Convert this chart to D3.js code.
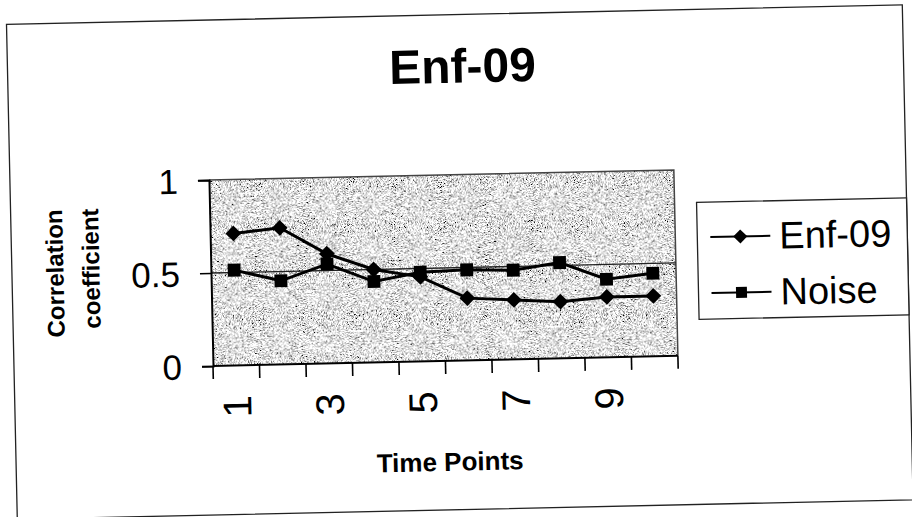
<!DOCTYPE html>
<html>
<head>
<meta charset="utf-8">
<script src="https://cdn.jsdelivr.net/npm/d3@7"></script>
<style>
  html, body { margin: 0; padding: 0; background: #fff; }
  svg { display: block; }
  text { font-family: "Liberation Sans", Arial, sans-serif; fill: #000; }
</style>
</head>
<body>
<svg id="chart" width="912" height="517"></svg>
<script>
// ---- data ----
const categories = [1, 2, 3, 4, 5, 6, 7, 8, 9, 10];
const xTickLabels = [1, 3, 5, 7, 9];
const yTicks = [0, 0.5, 1];
const yTickLabels = ["0", "0.5", "1"];
const enf09 = [0.71, 0.735, 0.59, 0.50, 0.455, 0.335, 0.32, 0.305, 0.325, 0.325];
const noise = [0.513, 0.45, 0.535, 0.435, 0.48, 0.487, 0.48, 0.515, 0.42, 0.447];
const seriesNames = ["Enf-09", "Noise"];
const chartTitle = "Enf-09";
const xTitle = "Time Points";
const yTitleLines = ["Correlation", "coefficient"];

// ---- layout ----
const plot = { left: 213, top: 180, right: 678, bottom: 366 };
const svg = d3.select("#chart");

const defs = svg.append("defs");
const filt = defs.append("filter").attr("id", "stipple")
  .attr("x", 0).attr("y", 0).attr("width", 1).attr("height", 1)
  .attr("filterUnits", "objectBoundingBox");
filt.append("feTurbulence").attr("type", "fractalNoise")
  .attr("baseFrequency", 1.3).attr("numOctaves", 2).attr("seed", 7).attr("result", "t");
filt.append("feColorMatrix").attr("in", "t").attr("type", "matrix")
  .attr("values", "3.4 0 0 0 -0.95  3.4 0 0 0 -0.95  3.4 0 0 0 -0.95  0 0 0 0 1");

// whole scan is slightly rotated
const g = svg.append("g").attr("transform", `rotate(-1.25, ${plot.left}, ${plot.bottom})`);

// outer frame
g.append("rect").attr("x", 14).attr("y", 20).attr("width", 896).attr("height", 495)
  .attr("fill", "none").attr("stroke", "#222").attr("stroke-width", 1.3);

const x = d3.scaleBand().domain(categories).range([plot.left, plot.right]).padding(0);
const y = d3.scaleLinear().domain([0, 1]).range([plot.bottom, plot.top]);

// plot background
g.append("rect").attr("x", plot.left).attr("y", plot.top)
  .attr("width", plot.right - plot.left).attr("height", plot.bottom - plot.top)
  .attr("fill", "#c8c8c8").attr("filter", "url(#stipple)");
// plot top/right border
g.append("path")
  .attr("d", `M${plot.left},${plot.top}H${plot.right}V${plot.bottom}`)
  .attr("fill", "none").attr("stroke", "#444").attr("stroke-width", 1.5);

// gridline at 0.5
g.append("line").attr("x1", plot.left).attr("x2", plot.right)
  .attr("y1", y(0.5)).attr("y2", y(0.5)).attr("stroke", "#222").attr("stroke-width", 1.3);

// y axis
const yAxis = d3.axisLeft(y).tickValues(yTicks).tickSize(11).tickFormat((d, i) => yTickLabels[i]);
const yg = g.append("g").attr("transform", `translate(${plot.left},0)`).call(yAxis);
yg.select(".domain").attr("stroke", "#000").attr("stroke-width", 2);
yg.selectAll(".tick line").attr("stroke", "#000").attr("stroke-width", 1.5);
yg.selectAll(".tick text").attr("x", -31).attr("dy", null)
  .attr("dominant-baseline", "central")
  .style("font-size", "35px").style("font-family", "Liberation Sans, Arial, sans-serif").attr("fill", "#000");

// x axis with ticks at band boundaries
const boundaries = categories.map(c => x(c)).concat([plot.right]);
const xAxisG = g.append("g");
xAxisG.append("line").attr("x1", plot.left).attr("x2", plot.right)
  .attr("y1", plot.bottom).attr("y2", plot.bottom).attr("stroke", "#000").attr("stroke-width", 2);
xAxisG.selectAll("line.tk").data(boundaries).join("line").attr("class", "tk")
  .attr("x1", d => d).attr("x2", d => d)
  .attr("y1", plot.bottom).attr("y2", plot.bottom + 13)
  .attr("stroke", "#000").attr("stroke-width", 1.6);
xAxisG.selectAll("text").data(xTickLabels).join("text")
  .attr("transform", d => `translate(${x(d) + x.bandwidth() / 2},407) rotate(-90)`)
  .attr("text-anchor", "middle").attr("dominant-baseline", "central")
  .style("font-size", "40px").text(d => d);

// series
const cx = d => x(d) + x.bandwidth() / 2;
const line = d3.line().x((d, i) => cx(categories[i])).y(d => y(d));
[noise, enf09].forEach(s => {
  g.append("path").datum(s).attr("d", line)
    .attr("fill", "none").attr("stroke", "#000").attr("stroke-width", 3);
});
g.selectAll("path.nz").data(noise).join("path").attr("class", "nz")
  .attr("transform", (d, i) => `translate(${cx(categories[i])},${y(d)})`)
  .attr("d", d3.symbol().type(d3.symbolSquare).size(165)).attr("fill", "#000");
g.selectAll("path.ef").data(enf09).join("path").attr("class", "ef")
  .attr("transform", (d, i) => `translate(${cx(categories[i])},${y(d)}) rotate(45)`)
  .attr("d", d3.symbol().type(d3.symbolSquare).size(125)).attr("fill", "#000");

// title
g.append("text").attr("x", 469).attr("y", 88).attr("text-anchor", "middle")
  .style("font-size", "48px").style("font-weight", "bold").text(chartTitle);

// axis titles
g.append("text").attr("x", 448).attr("y", 467).attr("text-anchor", "middle")
  .attr("dominant-baseline", "central")
  .style("font-size", "26px").style("font-weight", "bold").text(xTitle);
const ytCenters = [[57, 270], [93, 266]];
yTitleLines.forEach((t, i) => {
  g.append("text").attr("transform", `translate(${ytCenters[i][0]},${ytCenters[i][1]}) rotate(-90)`)
    .attr("text-anchor", "middle").attr("dominant-baseline", "central")
    .style("font-size", "24px").style("font-weight", "bold").text(t);
});

// legend
const lg = g.append("g");
lg.append("rect").attr("x", 700).attr("y", 213).attr("width", 210).attr("height", 117)
  .attr("fill", "#fff").attr("stroke", "#222").attr("stroke-width", 1.3);
const legY = [248, 304];
seriesNames.forEach((n, i) => {
  lg.append("line").attr("x1", 713).attr("x2", 773).attr("y1", legY[i]).attr("y2", legY[i])
    .attr("stroke", "#000").attr("stroke-width", 2);
  lg.append("path").attr("transform", `translate(743,${legY[i]})` + (i === 0 ? " rotate(45)" : ""))
    .attr("d", d3.symbol().type(d3.symbolSquare).size(i === 0 ? 100 : 120)).attr("fill", "#000");
  lg.append("text").attr("x", 782).attr("y", legY[i]).attr("dominant-baseline", "central")
    .style("font-size", "38px").text(n);
});
</script>
</body>
</html>
